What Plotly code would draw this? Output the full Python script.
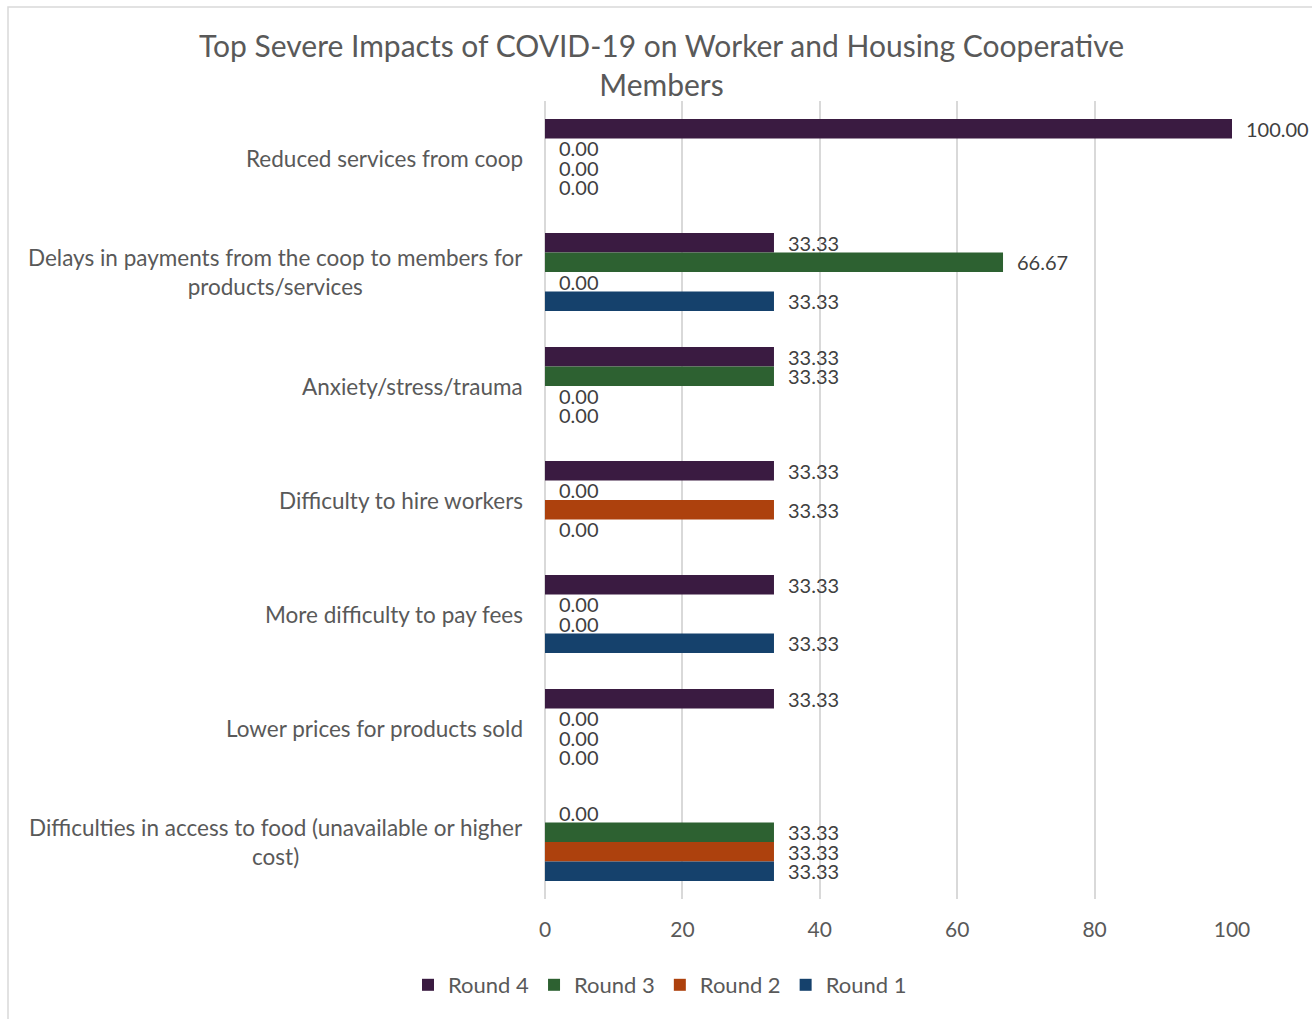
import plotly.graph_objects as go

# Impact categories, listed top to bottom
categories = [
    "Reduced services from coop",
    "Delays in payments from the coop to members for<br>products/services",
    "Anxiety/stress/trauma",
    "Difficulty to hire workers",
    "More difficulty to pay fees",
    "Lower prices for products sold",
    "Difficulties in access to food (unavailable or higher<br>cost)",
]

# Share of respondents (%) per survey round
round4 = [100.00, 33.33, 33.33, 33.33, 33.33, 33.33, 0.00]
round3 = [0.00, 66.67, 33.33, 0.00, 0.00, 0.00, 33.33]
round2 = [0.00, 0.00, 0.00, 33.33, 0.00, 0.00, 33.33]
round1 = [0.00, 33.33, 0.00, 0.00, 33.33, 0.00, 33.33]

series_names = ["Round 4", "Round 3", "Round 2", "Round 1"]
series_values = [round4, round3, round2, round1]
series_colors = ["#3a1b41", "#2d6131", "#ad410d", "#15416c"]

x_ticks = [0, 20, 40, 60, 80, 100]

FONT = "Gill Sans MT, Gill Sans, Lato, sans-serif"
W, H = 1312, 1019
L, R, T, B = 545, 80, 101, 120
PW, PH = W - L - R, H - T - B

fig = go.Figure()
for name, vals, color in zip(series_names, series_values, series_colors):
    fig.add_trace(go.Bar(
        y=categories, x=vals, name=name, orientation="h",
        marker=dict(color=color, line=dict(width=0)),
        hoverinfo="x+name",
    ))

# Value labels beside each bar end
bar_px = PH / len(categories) * (1 - 0.315) / 4
offsets = [1.5 * bar_px, 0.5 * bar_px, -0.5 * bar_px, -1.5 * bar_px]
annotations = []
for vals, off in zip(series_values, offsets):
    for cat, v in zip(categories, vals):
        annotations.append(dict(
            x=v, y=cat, xref="x", yref="y", text=f"{v:.2f}",
            showarrow=False, xanchor="left", yanchor="middle",
            xshift=12, yshift=off,
            font=dict(family=FONT, size=20, color="#404040"),
        ))

# Category labels, centred line by line
for cat in categories:
    annotations.append(dict(
        x=0, y=cat, xref="x", yref="y", text=cat, showarrow=False,
        xanchor="right", yanchor="middle", align="center", xshift=-20,
        font=dict(family=FONT, size=22.5, color="#595959"),
    ))

# Chart title
annotations.append(dict(
    x=(661 - L) / PW, y=(H - B - 65) / PH, xref="paper", yref="paper",
    text="Top Severe Impacts of COVID-19 on Worker and Housing Cooperative<br>Members",
    showarrow=False, xanchor="center", yanchor="middle", align="center",
    font=dict(family=FONT, size=30, color="#595959"),
))

# Chart frame
shapes = [dict(
    type="rect", xref="paper", yref="paper",
    x0=(8 - L) / PW, x1=(W + 20 - L) / PW,
    y0=(H - B - (H + 20)) / PH, y1=(H - B - 7) / PH,
    line=dict(color="#d9d9d9", width=1.5), fillcolor="rgba(0,0,0,0)",
    layer="below",
)]

fig.update_layout(
    width=W, height=H,
    margin=dict(l=L, r=R, t=T, b=B),
    paper_bgcolor="white", plot_bgcolor="white",
    barmode="group", bargap=0.315, bargroupgap=0,
    font=dict(family=FONT, size=20, color="#595959"),
    xaxis=dict(
        range=[0, 100], tickvals=x_ticks, showgrid=True,
        gridcolor="#d9d9d9", gridwidth=1.5, zeroline=True,
        zerolinecolor="#d9d9d9", zerolinewidth=1.5, showline=False,
        ticks="", ticklabelstandoff=16,
        tickfont=dict(family=FONT, size=21, color="#595959"),
        fixedrange=True,
    ),
    yaxis=dict(
        autorange="reversed", showticklabels=False, showgrid=False,
        zeroline=False, showline=False, ticks="", fixedrange=True,
    ),
    legend=dict(
        orientation="h", x=(660 - L) / PW, xanchor="center",
        y=(H - B - 985) / PH, yanchor="middle",
        font=dict(family=FONT, size=22, color="#595959"),
        itemwidth=30, traceorder="normal",
    ),
    annotations=annotations,
    shapes=shapes,
    showlegend=True,
)

fig.write_html("out.html")
